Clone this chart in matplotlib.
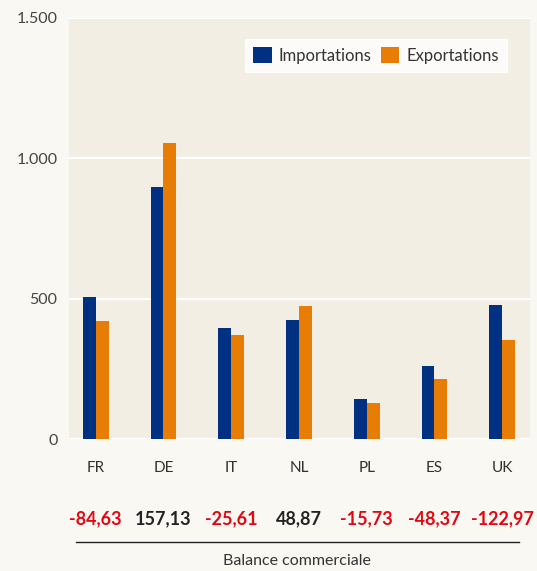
import matplotlib.pyplot as plt
import numpy as np

plt.rcParams['font.family'] = ['Lato', 'DejaVu Sans']

# Données
pays = ['FR', 'DE', 'IT', 'NL', 'PL', 'ES', 'UK']
importations = [506, 897, 396, 425, 144, 262, 478]
exportations = [421.37, 1054.13, 370.39, 473.87, 128.27, 213.63, 355.03]
balance = ['-84,63', '157,13', '-25,61', '48,87', '-15,73', '-48,37', '-122,97']

bleu = '#003082'
orange = '#e87d06'
rouge = '#e30613'

fig = plt.figure(figsize=(5.37, 5.71), dpi=100)
fig.patch.set_facecolor('#faf8f3')
ax = fig.add_axes([0.1276, 0.2307, 0.987 - 0.1276, 0.9685 - 0.2307])
ax.set_facecolor('#f2eee3')

x = np.arange(len(pays))
w = 0.19
ax.bar(x - w / 2, importations, w, color=bleu, label='Importations', zorder=3)
ax.bar(x + w / 2, exportations, w, color=orange, label='Exportations', zorder=3)

ax.set_ylim(0, 1500)
ax.set_xlim(-0.4, 6.41)
ax.set_yticks([0, 500, 1000, 1500])
ax.set_yticklabels(['0', '500', '1.000', '1.500'])
ax.yaxis.grid(True, color='white', linewidth=1.5, zorder=1)
ax.tick_params(axis='y', length=0, pad=8, labelsize=11.5, labelcolor='#444444')
ax.set_xticks(x)
ax.set_xticklabels(pays)
ax.tick_params(axis='x', length=0, pad=16, labelsize=11, labelcolor='#333333')
for s in ax.spines.values():
    s.set_visible(False)

leg = ax.legend(loc='upper right', bbox_to_anchor=(0.95, 0.95), ncol=2, fontsize=12,
                frameon=True, fancybox=False, handlelength=1.1, handleheight=1.1,
                handletextpad=0.4, columnspacing=0.6, borderpad=0.5, borderaxespad=0)
leg.get_frame().set_facecolor('white')
leg.get_frame().set_edgecolor('white')
for t in leg.get_texts():
    t.set_color('#333333')

# Balance commerciale
for i, b in enumerate(balance):
    c = rouge if b.startswith('-') else '#222222'
    ax.annotate(b, xy=(i, 0), xycoords=('data', 'axes fraction'), xytext=(0, -79),
                textcoords='offset pixels', ha='center', va='center',
                fontsize=13, fontweight='bold', color=c)

fig.add_artist(plt.Line2D([76 / 537, 519 / 537], [1 - 542 / 571, 1 - 542 / 571],
                          color='#222222', linewidth=1))
fig.text(297 / 537, 1 - 561 / 571, 'Balance commerciale', ha='center', va='center',
         fontsize=11.5, color='#333333')

fig.savefig('out.png', dpi=100, facecolor=fig.get_facecolor())
